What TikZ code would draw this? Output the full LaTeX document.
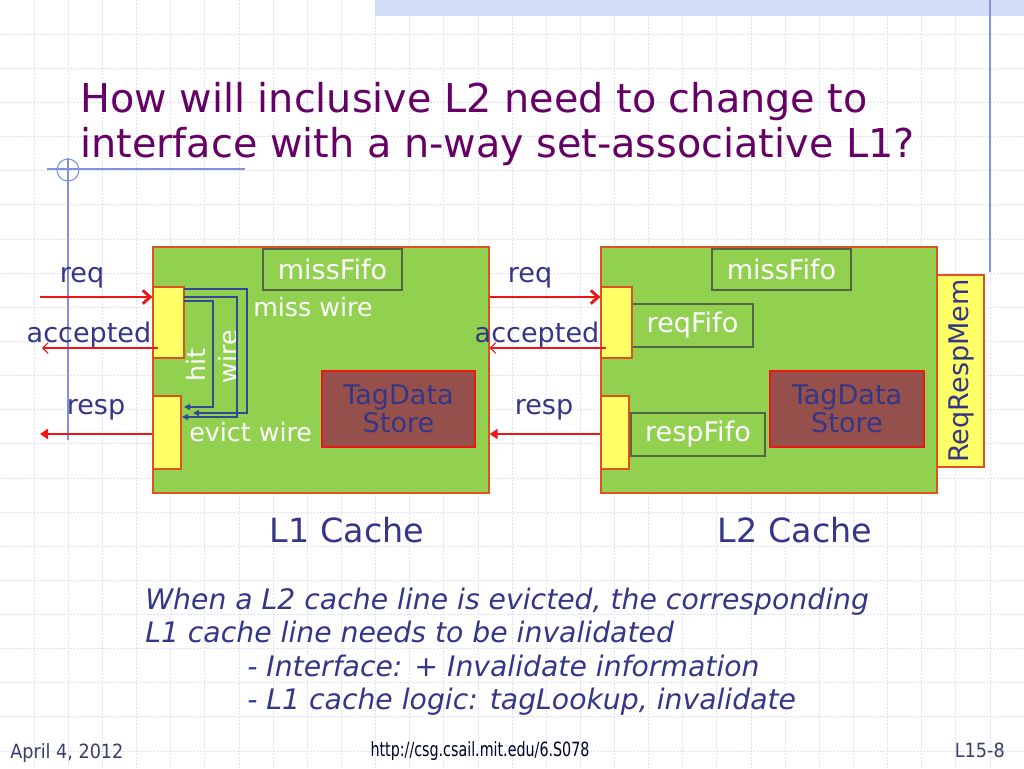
\documentclass[tikz,border=0pt]{standalone}
\usepackage{fontspec}
\setmainfont{DejaVu Sans}
\newfontfamily\condf{DejaVu Sans Condensed}
\usetikzlibrary{arrows.meta}
\definecolor{gridc}{RGB}{222,224,246}
\definecolor{decoblue}{RGB}{125,145,220}
\definecolor{bandc}{RGB}{210,222,248}
\definecolor{titlec}{RGB}{102,0,102}
\definecolor{txtblue}{RGB}{52,54,135}
\definecolor{boxgreen}{RGB}{146,208,80}
\definecolor{boxborder}{RGB}{222,82,32}
\definecolor{fifoborder}{RGB}{80,102,70}
\definecolor{yellowc}{RGB}{255,255,102}
\definecolor{tagfill}{RGB}{150,80,76}
\definecolor{wireblue}{RGB}{52,72,150}
\definecolor{arrred}{RGB}{240,20,20}
\definecolor{footc}{RGB}{60,60,110}
\newcommand{\pxbox}[7]{%
  \node[#6, minimum width={(#4-#2)*0.75pt}, minimum height={(#5-#3)*0.75pt}, inner sep=0pt]
    (#1) at ({(#2+#4)/2},{(#3+#5)/2}) {#7};}
\begin{document}
\begin{tikzpicture}[x=0.75pt,y=-0.75pt,
  gridline/.style={draw=gridc, line width=0.5pt, dash pattern=on 1.5pt off 1pt},
  deco/.style={draw=decoblue, line width=0.8pt},
  cache/.style={fill=boxgreen, draw=boxborder, line width=1pt},
  fifo/.style={fill=boxgreen, draw=fifoborder, line width=0.8pt, text=white, font=\fontsize{20.3pt}{24pt}\selectfont},
  port/.style={fill=yellowc, draw=boxborder, line width=1pt},
  tagbox/.style={fill=tagfill, draw=arrred, line width=1pt, text=txtblue, align=center, font=\fontsize{20.3pt}{24pt}\selectfont},
  lbl/.style={text=txtblue, font=\fontsize{20.3pt}{24pt}\selectfont, inner sep=0pt},
  wlbl/.style={text=white, font=\fontsize{19pt}{22pt}\selectfont, inner sep=0pt},
  bigarrow/.style={draw=arrred, line width=2.2pt, -{Straight Barb[length=5.5pt,width=10pt,line width=2.2pt]}},
  resparrow/.style={draw=arrred, line width=2.2pt, -{Triangle[length=6pt,width=7.5pt]}},
  thinarrow/.style={draw=arrred, line width=0.8pt, -{Straight Barb[length=4pt,width=8pt,line width=0.8pt]}},
  wire/.style={draw=wireblue, line width=1pt, -{Triangle[length=4.5pt,width=4.5pt]}},
  body/.style={text=txtblue, font=\fontsize{21.2pt}{25pt}\selectfont\itshape, inner sep=0pt, anchor=base west},
  foot/.style={font=\condf\fontsize{14.7pt}{17pt}\selectfont, inner sep=0pt}
]
\useasboundingbox (0,0) rectangle (1024,768);
\fill[white] (0,0) rectangle (1024,768);
% background grid
\foreach \i in {1,...,29} \draw[gridline] ({\i*34.133},0) -- ({\i*34.133},768);
\foreach \j in {1,...,22} \draw[gridline] (0,{\j*34.133}) -- (1024,{\j*34.133});
% top band and decorations
\fill[bandc] (375,0) rectangle (1024,16);
\draw[deco] (990,0) -- (990,272);
\draw[deco] (47,169) -- (245,169);
\draw[deco] (68,158) -- (68,440);
\draw[deco] (68,170) circle[radius=11];
% title
\node[anchor=base west, inner sep=0pt, text=titlec, font=\fontsize{29.8pt}{34pt}\selectfont] (title1) at (80,112) {How will inclusive L2 need to change to};
\node[anchor=base west, inner sep=0pt, text=titlec, font=\fontsize{29.8pt}{34pt}\selectfont] (title2) at (80,157) {interface with a n-way set-associative L1?};
% L1 cache
\pxbox{L1}{153}{247}{489}{493}{cache}{}
\pxbox{L1miss}{263}{249}{402}{290}{fifo}{missFifo}
\pxbox{L1up}{153}{287}{184}{358}{port}{}
\pxbox{L1lo}{153}{396}{181}{469}{port}{}
\pxbox{L1tag}{322}{371}{475}{447}{tagbox}{TagData\\[-3pt]Store}
% L2 cache
\pxbox{L2}{601}{247}{937}{493}{cache}{}
\pxbox{L2miss}{712}{249}{851}{290}{fifo}{missFifo}
\pxbox{reqFifo}{632}{304}{753}{347}{fifo}{reqFifo}
\pxbox{respFifo}{631}{413}{765}{456}{fifo}{respFifo}
\pxbox{L2tag}{770}{371}{924}{447}{tagbox}{TagData\\[-3pt]Store}
\pxbox{L2up}{601}{287}{632}{358}{port}{}
\pxbox{L2lo}{601}{396}{629}{469}{port}{}
\pxbox{RRM}{937}{275}{984}{467}{port}{}
\node[lbl, rotate=90] (RRMtext) at (961,371) {ReqRespMem};
% labels
\node[lbl] (reqA) at (82,278) {req};
\node[lbl] (accA) at (89,335) {accepted};
\node[lbl] (respA) at (96,410) {resp};
\node[lbl] (reqB) at (530,278) {req};
\node[lbl] (accB) at (537,335) {accepted};
\node[lbl] (respB) at (544,410) {resp};
\node[wlbl, anchor=west] (missw) at (253,307) {miss wire};
\node[wlbl, anchor=west] (evictw) at (189,432) {evict wire};
\node[wlbl, rotate=90] (hitw) at (196,365) {hit};
\node[wlbl, rotate=90] (wirew) at (228,357) {wire};
% connector end points
\coordinate (reqAs) at (40,297);
\coordinate (accAs) at (158,348);
\coordinate (accAe) at (42,348);
\coordinate (respAe) at (40,434);
\coordinate (accBs) at (606,348);
% red arrows
\draw[bigarrow] (reqAs) -- (reqAs -| L1up.west);
\draw[thinarrow] (accAs) -- (accAe);
\draw[resparrow] (L1lo.west |- respAe) -- (respAe);
\draw[bigarrow] (L1.east |- reqAs) -- (L2up.west |- reqAs);
\draw[thinarrow] (accBs) -- (L1.east |- accBs);
\draw[resparrow] (L2lo.west |- respAe) -- (L1.east |- respAe);
% blue wires
\coordinate (w1a) at (184,289);
\coordinate (w1b) at (193,413);
\coordinate (w2a) at (184,297);
\coordinate (w2b) at (182,417);
\coordinate (w3a) at (184,301);
\coordinate (w3b) at (184,407);
\draw[wire] (w1a) -- (247,289) -- (247,413) -- (w1b);
\draw[wire] (w2a) -- (237,297) -- (237,417) -- (w2b);
\draw[wire] (w3a) -- (213,301) -- (213,407) -- (w3b);
% cache names
\node[lbl, font=\fontsize{25pt}{30pt}\selectfont] (L1name) at (347,530) {L1 Cache};
\node[lbl, font=\fontsize{25pt}{30pt}\selectfont] (L2name) at (795,530) {L2 Cache};
% body text
\node[body] (b1) at (145,609) {When a L2 cache line is evicted, the corresponding};
\node[body] (b2) at (145,642) {L1 cache line needs to be invalidated};
\node[body] (b3) at (247,676) {- Interface: + Invalidate information};
\node[body] (b4) at (247,709) {- L1 cache logic: tagLookup, invalidate};
% footer
\node[foot, anchor=base west, text=footc] (date) at (10,758) {April 4, 2012};
\node[foot, anchor=base, text=black!85!blue] (url) at (480,756) {\scalebox{0.81}[1]{http://csg.csail.mit.edu/6.S078}};
\node[foot, anchor=base east, text=footc] (slide) at (1005,757) {L15-8};
\end{tikzpicture}
\end{document}
